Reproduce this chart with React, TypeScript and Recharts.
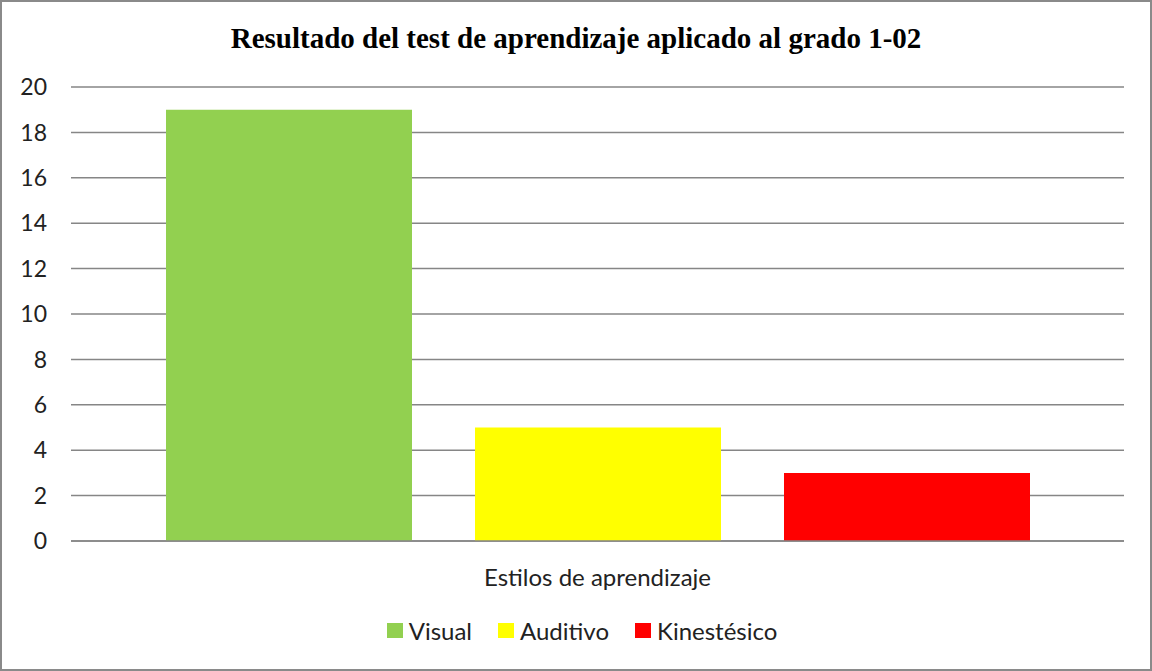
import { BarChart, Bar, XAxis, YAxis, CartesianGrid, Legend } from 'recharts'

const categories = ['Estilos de aprendizaje']
const seriesNames = ['Visual', 'Auditivo', 'Kinestésico']
const seriesValues = [19, 5, 3]
const seriesColors = ['#92D050', '#FFFF00', '#FF0000']
const yTicks = [0, 2, 4, 6, 8, 10, 12, 14, 16, 18, 20]

const chartData = categories.map((name) => {
  const row: any = { name }
  seriesNames.forEach((s, i) => {
    row[s] = seriesValues[i]
  })
  return row
})

const FONT = 'Lato, "Open Sans", sans-serif'

function LegendBox() {
  return (
    <div style={{ display: 'flex', justifyContent: 'center', alignItems: 'center', height: 50, paddingTop: 8, paddingLeft: 40, boxSizing: 'border-box', fontFamily: FONT, fontSize: 24, color: '#222' }}>
      {seriesNames.map((s, i) => (
        <div key={s} style={{ display: 'flex', alignItems: 'center', marginRight: i < seriesNames.length - 1 ? 26 : 0 }}>
          <span style={{ display: 'inline-block', width: 16, height: 15, background: seriesColors[i], marginRight: 6 }} />
          <span>{s}</span>
        </div>
      ))}
    </div>
  )
}

export default function App() {
  return (
    <div style={{ position: 'fixed', top: 0, left: 0, width: 1152, height: 671, background: '#fff' }}>
      <div style={{ position: 'absolute', top: 22, left: 0, width: 1152, textAlign: 'center', fontFamily: '"Liberation Serif", "Times New Roman", serif', fontWeight: 'bold', fontSize: 29, color: '#000' }}>
        Resultado del test de aprendizaje aplicado al grado 1-02
      </div>
      <BarChart
        width={1152}
        height={671}
        data={chartData}
        margin={{ top: 87, right: 28, bottom: 20, left: 0 }}
        barCategoryGap={95}
        barGap={63}
      >
        <CartesianGrid vertical={false} stroke="#868686" strokeWidth={1.5} />
        <XAxis
          dataKey="name"
          height={60}
          axisLine={{ stroke: '#868686', strokeWidth: 1.5 }}
          tickLine={false}
          tick={{ fontFamily: FONT, fontSize: 24, fill: '#222' }}
          tickMargin={22}
        />
        <YAxis
          width={71}
          domain={[0, 20]}
          ticks={yTicks}
          axisLine={false}
          tickLine={false}
          tickMargin={18}
          interval={0}
          tick={{ fontFamily: FONT, fontSize: 23, fill: '#222' }}
        />
        <Legend verticalAlign="bottom" height={50} content={() => <LegendBox />} />
        {seriesNames.map((s, i) => (
          <Bar key={s} dataKey={s} fill={seriesColors[i]} isAnimationActive={false} />
        ))}
      </BarChart>
      <div style={{ position: 'absolute', top: 0, left: 0, width: 1152, height: 671, boxSizing: 'border-box', border: '2px solid #8a8a8a', pointerEvents: 'none', zIndex: 10 }} />
    </div>
  )
}
